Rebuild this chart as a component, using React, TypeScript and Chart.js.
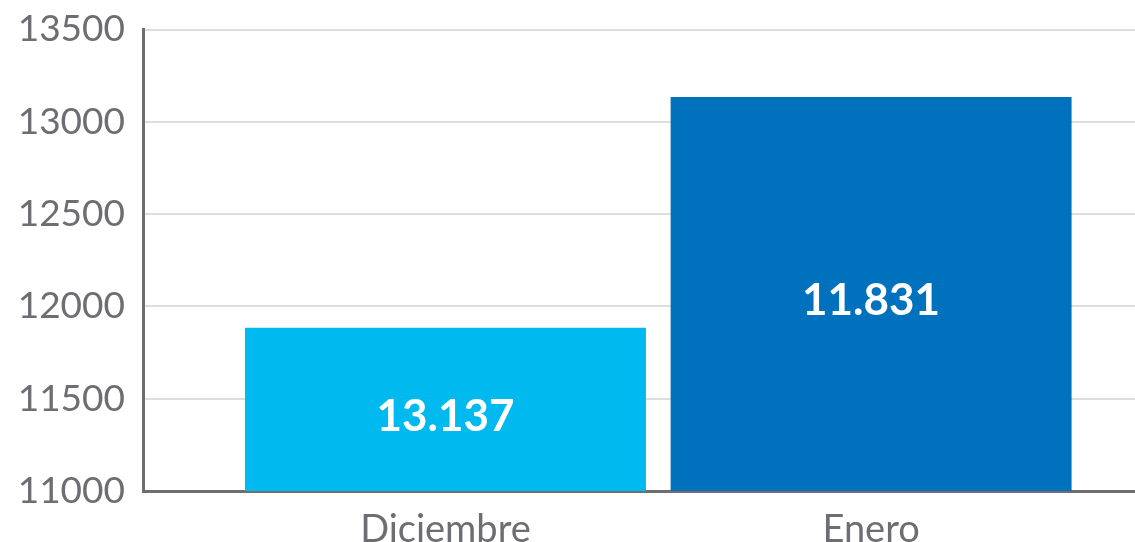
import React, { useEffect, useRef } from "react";
import { Chart, registerables } from "chart.js";

Chart.register(...registerables);

const categories = ["Diciembre", "Enero"];
const values = [11885, 13135];
const barLabels = ["13.137", "11.831"];
const barColors = ["#00B9EF", "#0071BC"];
const yTicks = [11000, 11500, 12000, 12500, 13000, 13500];

const FONT = "Lato, sans-serif";

const barLabelPlugin = {
  id: "barLabelPlugin",
  afterDatasetsDraw(chart: any) {
    const ctx = chart.ctx;
    const yScale = chart.scales.y;
    const basePx = yScale.getPixelForValue(yScale.min);
    const meta = chart.getDatasetMeta(0);
    ctx.save();
    ctx.fillStyle = "#ffffff";
    ctx.font = "bold 44px " + FONT;
    ctx.textAlign = "center";
    ctx.textBaseline = "middle";
    meta.data.forEach((bar: any, i: number) => {
      ctx.fillText(barLabels[i], bar.x, (bar.y + basePx) / 2 + 7);
    });
    ctx.restore();
  },
};

export default function App() {
  const ref = useRef<HTMLCanvasElement | null>(null);
  useEffect(() => {
    document.body.style.margin = "0";
    if (!ref.current) return;
    const chart = new Chart(ref.current, {
      type: "bar",
      data: {
        datasets: [
          {
            data: values.map((v, i) => ({ x: i + 1, y: v })),
            backgroundColor: barColors,
            borderWidth: 0,
            categoryPercentage: 1,
            barPercentage: 0.942,
          },
        ],
      },
      options: {
        animation: false,
        responsive: false,
        maintainAspectRatio: false,
        layout: { padding: { top: 29.5, right: 0, left: 0, bottom: 0 } },
        plugins: { legend: { display: false }, tooltip: { enabled: false } },
        scales: {
          x: {
            type: "linear",
            offset: false,
            min: 0.2894,
            max: 2.62,
            afterBuildTicks: (scale: any) => {
              scale.ticks = categories.map((_, i) => ({ value: i + 1 }));
            },
            afterFit: (scale: any) => {
              scale.height = 51;
              scale.paddingLeft = 0;
              scale.paddingRight = 0;
            },
            grid: { display: false, drawTicks: false, offset: false },
            border: { display: true, color: "#6d6e71", width: 3 },
            ticks: {
              padding: 16,
              color: "#6d6e71",
              font: { family: FONT, size: 38 },
              callback: (v: any) => categories[Math.round(Number(v)) - 1] ?? "",
            },
          },
          y: {
            min: 11000,
            max: 13500,
            afterBuildTicks: (scale: any) => {
              scale.ticks = yTicks.map((v) => ({ value: v }));
            },
            afterFit: (scale: any) => {
              scale.width = 143;
              scale.paddingTop = 0;
              scale.paddingBottom = 0;
            },
            grid: { color: "#dddddd", lineWidth: 2, drawTicks: false },
            border: { display: true, color: "#6d6e71", width: 3 },
            ticks: {
              padding: 18,
              color: "#6d6e71",
              font: { family: FONT, size: 37 },
              callback: (v: any) => String(v),
            },
          },
        },
      },
      plugins: [barLabelPlugin],
    });
    return () => chart.destroy();
  }, []);
  return (
    <div style={{ position: "absolute", left: 0, top: 0, width: 1135, height: 542 }}>
      <canvas ref={ref} width={1135} height={542} style={{ width: 1135, height: 542 }} />
    </div>
  );
}
